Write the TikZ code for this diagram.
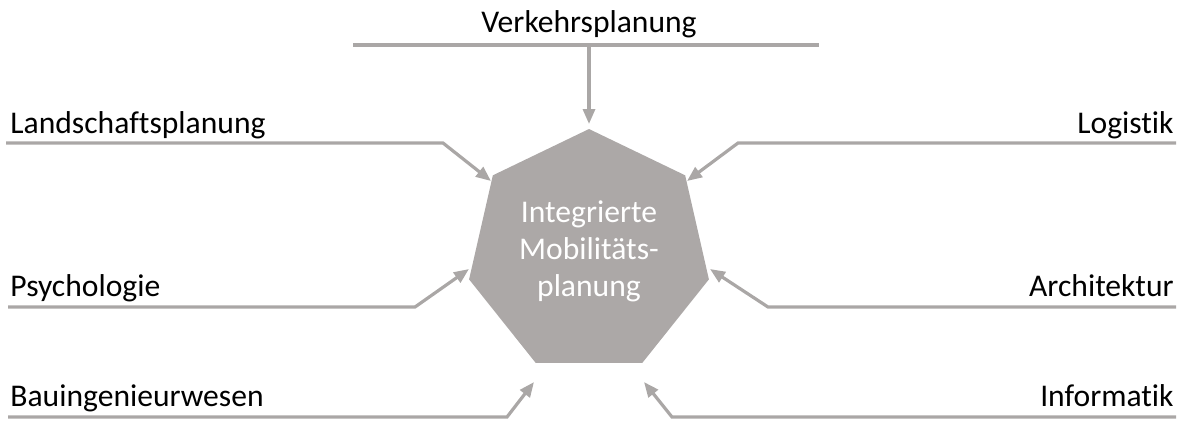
\documentclass[tikz,border=0pt]{standalone}
\usepackage{fontspec}
\setmainfont{Carlito}[Ligatures={NoCommon}]
\usetikzlibrary{shapes.geometric,arrows.meta}
\definecolor{linegray}{RGB}{170,167,166}
\definecolor{heptgray}{RGB}{172,168,167}
\begin{document}
\begin{tikzpicture}[x=0.5pt,y=-0.5pt,
    lbl/.style={inner sep=0pt,font=\fontsize{15.8pt}{18.5pt}\selectfont},
    conn/.style={draw=linegray,line width=1.6pt,
      -{Triangle[length=7.5pt,width=6pt]}},
    underline/.style={draw=linegray,line width=1.6pt}]
                \useasboundingbox (0,0) rectangle (1183,420);
                
                % Central heptagon
                \node [regular polygon,regular polygon sides=7,minimum size=123pt,
                       inner sep=0pt,outer sep=0pt,fill=heptgray,draw=none] (hept) at (589,252) {};
                \node [lbl,text=white,align=center] (centre) at (589,251)
                      {Integrierte\\Mobilitäts-\\planung};
                
                % Labels
                \node [lbl,anchor=base] (verkehr) at (589,32) {Verkehrsplanung};
                \node [lbl,anchor=base west] (land) at (10,133) {Landschaftsplanung};
                \node [lbl,anchor=base west] (psych) at (10,296) {Psychologie};
                \node [lbl,anchor=base west] (bau) at (10,406) {Bauingenieurwesen};
                \node [lbl,anchor=base east] (logistik) at (1174,133) {Logistik};
                \node [lbl,anchor=base east] (archi) at (1174,296) {Architektur};
                \node [lbl,anchor=base east] (info) at (1174,406) {Informatik};
                
                % Line ends and bends
                \coordinate (verkehr-a) at (353,45);
                \coordinate (verkehr-b) at (819,45);
                \coordinate (verkehr-c) at (589,45);
                \coordinate (verkehr-t) at (589,124);
                \coordinate (land-a) at (6,143);
                \coordinate (land-b) at (443,143);
                \coordinate (land-t) at (491,181);
                \coordinate (psych-a) at (8,307);
                \coordinate (psych-b) at (415,307);
                \coordinate (psych-t) at (469,269);
                \coordinate (bau-a) at (8,417);
                \coordinate (bau-b) at (507,417);
                \coordinate (bau-t) at (534,382);
                \coordinate (logistik-a) at (1176,143);
                \coordinate (logistik-b) at (738,143);
                \coordinate (logistik-t) at (687,181);
                \coordinate (archi-a) at (1176,307);
                \coordinate (archi-b) at (768,307);
                \coordinate (archi-t) at (710,269);
                \coordinate (info-a) at (1176,417);
                \coordinate (info-b) at (672,417);
                \coordinate (info-t) at (644,382);
                
                % Drawing segment Verkehrsplanung
                \draw [underline] (verkehr-a) -- (verkehr-b);%
                \draw [conn] (verkehr-c) -- (verkehr-t);%
                
                % Drawing segments on the left
                \draw [conn] (land-a) -- (land-b) -- (land-t);%
                \draw [conn] (psych-a) -- (psych-b) -- (psych-t);%
                \draw [conn] (bau-a) -- (bau-b) -- (bau-t);%
                
                % Drawing segments on the right
                \draw [conn] (logistik-a) -- (logistik-b) -- (logistik-t);%
                \draw [conn] (archi-a) -- (archi-b) -- (archi-t);%
                \draw [conn] (info-a) -- (info-b) -- (info-t);%
\end{tikzpicture}
\end{document}
